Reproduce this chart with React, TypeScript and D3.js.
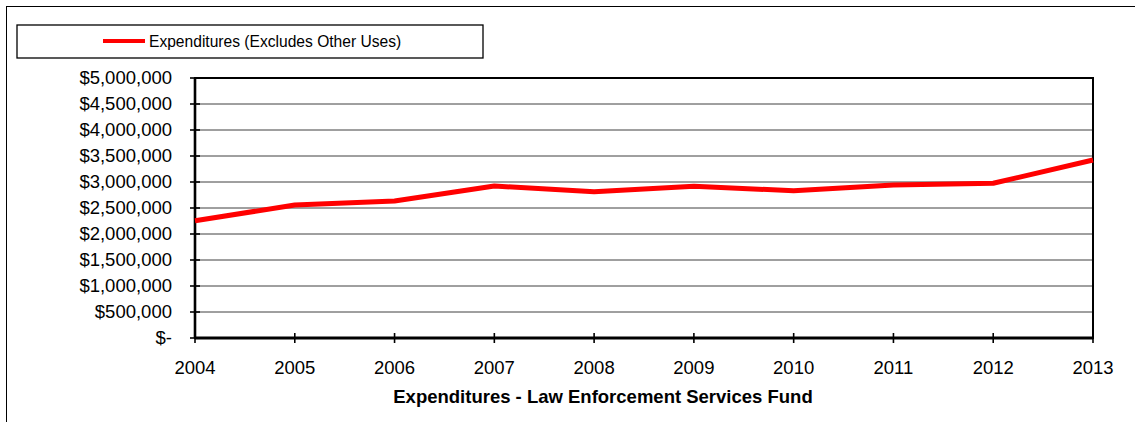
import React from "react";
import * as d3 from "d3";

// Annual expenditures of the Law Enforcement Services Fund
const years: number[] = [2004, 2005, 2006, 2007, 2008, 2009, 2010, 2011, 2012, 2013];
const expenditures: number[] = [
  2255000, 2558000, 2635000, 2923000, 2814000, 2917000, 2833000, 2942000, 2975000, 3423000,
];
const yTicks: number[] = [0, 500000, 1000000, 1500000, 2000000, 2500000, 3000000, 3500000, 4000000, 4500000, 5000000];
const seriesName = "Expenditures (Excludes Other Uses)";
const chartTitle = "Expenditures - Law Enforcement Services Fund";

const W = 1135;
const H = 422;
const plot = { left: 195, right: 1093, top: 78, bottom: 338 };
const FONT = "'Liberation Sans', Arial, Helvetica, sans-serif";
const LABEL_SIZE = 18.5;

const fmtMoney = (v: number) => (v === 0 ? "$-" : "$" + d3.format(",")(v));

export default function App() {
  const x = d3.scaleLinear().domain([years[0], years[years.length - 1]]).range([plot.left, plot.right]);
  const y = d3.scaleLinear().domain([0, 5000000]).range([plot.bottom, plot.top]);

  const line = d3
    .line<number>()
    .x((_, i) => x(years[i]))
    .y((d) => y(d));

  return (
    <svg
      width={W}
      height={H}
      style={{ position: "absolute", left: 0, top: 0, background: "#fff" }}
      fontFamily={FONT}
    >
      <rect x={0} y={0} width={W} height={H} fill="#fff" />
      {/* outer chart frame */}
      <rect x={6.5} y={6.5} width={W + 20} height={H + 20} fill="none" stroke="#000" strokeWidth={1} />

      {/* legend */}
      <rect x={17} y={25} width={466} height={33} fill="#fff" stroke="#000" strokeWidth={1.3} />
      <line x1={103} x2={145} y1={41} y2={41} stroke="#ff0000" strokeWidth={4} />
      <text x={149} y={47} fontSize={15.6} fill="#000">
        {seriesName}
      </text>

      {/* horizontal gridlines */}
      {yTicks
        .filter((t) => t > 0 && t < 5000000)
        .map((t) => (
          <line key={"g" + t} x1={plot.left} x2={plot.right} y1={y(t)} y2={y(t)} stroke="#404040" strokeWidth={1} />
        ))}

      {/* plot frame */}
      <rect
        x={plot.left}
        y={plot.top}
        width={plot.right - plot.left}
        height={plot.bottom - plot.top}
        fill="none"
        stroke="#000"
        strokeWidth={2}
      />
      <line x1={plot.left} x2={plot.left} y1={plot.top} y2={plot.bottom} stroke="#000" strokeWidth={2.6} />
      <line x1={plot.left} x2={plot.right} y1={plot.bottom} y2={plot.bottom} stroke="#000" strokeWidth={2.8} />

      {/* y axis ticks and labels */}
      {yTicks.map((t) => (
        <g key={"y" + t}>
          <line x1={plot.left - 5} x2={plot.left + 5} y1={y(t)} y2={y(t)} stroke="#000" strokeWidth={1.6} />
          <text x={172} y={y(t)} dy="0.35em" textAnchor="end" fontSize={LABEL_SIZE} fill="#000">
            {fmtMoney(t)}
          </text>
        </g>
      ))}

      {/* x axis ticks and labels */}
      {years.map((yr) => (
        <g key={"x" + yr}>
          <line x1={x(yr)} x2={x(yr)} y1={plot.bottom - 5} y2={plot.bottom + 5} stroke="#000" strokeWidth={1.6} />
          <text x={x(yr)} y={plot.bottom + 36} textAnchor="middle" fontSize={LABEL_SIZE} fill="#000">
            {yr}
          </text>
        </g>
      ))}

      {/* data line */}
      <path
        d={line(expenditures) || ""}
        fill="none"
        stroke="#ff0000"
        strokeWidth={5}
        strokeLinejoin="round"
      />

      {/* axis title */}
      <text x={603} y={403} textAnchor="middle" fontSize={LABEL_SIZE} fontWeight="bold" fill="#000">
        {chartTitle}
      </text>
    </svg>
  );
}
